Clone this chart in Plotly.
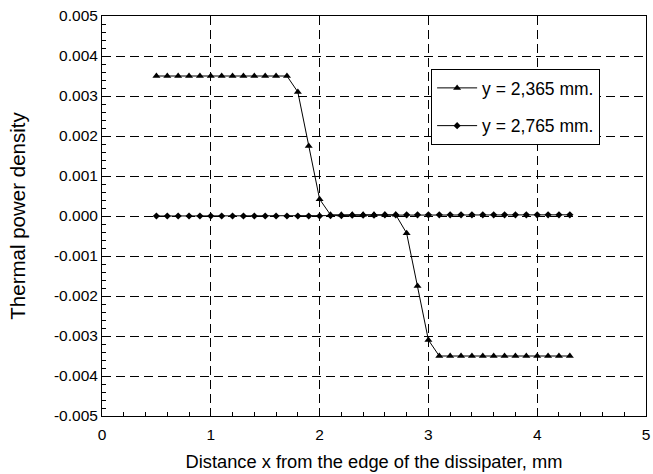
import plotly.graph_objects as go

# Data
x_a = [0.5, 0.6, 0.7, 0.8, 0.9, 1.0, 1.1, 1.2, 1.3, 1.4, 1.5, 1.6, 1.7,
       1.8, 1.9, 2.0, 2.1, 2.2, 2.3, 2.4, 2.5, 2.6, 2.7, 2.8, 2.9, 3.0,
       3.1, 3.2, 3.3, 3.4, 3.5, 3.6, 3.7, 3.8, 3.9, 4.0, 4.1, 4.2, 4.3]
y_a = [0.0035, 0.0035, 0.0035, 0.0035, 0.0035, 0.0035, 0.0035, 0.0035, 0.0035, 0.0035, 0.0035, 0.0035, 0.0035,
       0.00310, 0.00175, 0.00042, 0.00003, 0.00003, 0.00003, 0.00003, 0.00003, 0.00003, 0.00003,
       -0.00043, -0.00175, -0.00310,
       -0.0035, -0.0035, -0.0035, -0.0035, -0.0035, -0.0035, -0.0035, -0.0035, -0.0035, -0.0035, -0.0035, -0.0035, -0.0035]

x_b = [0.5, 0.6, 0.7, 0.8, 0.9, 1.0, 1.1, 1.2, 1.3, 1.4, 1.5, 1.6, 1.7,
       1.8, 1.9, 2.0, 2.1, 2.2, 2.3, 2.4, 2.5, 2.6, 2.7, 2.8, 2.9, 3.0,
       3.1, 3.2, 3.3, 3.4, 3.5, 3.6, 3.7, 3.8, 3.9, 4.0, 4.1, 4.2, 4.3]
y_b = [0.0, 0.0, 0.0, 0.0, 0.0, 0.0, 0.0, 0.0, 0.0, 0.0, 0.0, 0.0, 0.0,
       0.0, 0.0, 0.0, 0.00001, 0.00001, 0.00002, 0.00002, 0.00002, 0.00003, 0.00003, 0.00003, 0.00003, 0.00003,
       0.00003, 0.00003, 0.00003, 0.00003, 0.00003, 0.00003, 0.00003, 0.00003, 0.00003, 0.00003, 0.00003, 0.00003, 0.00003]

name_a = "y = 2,365 mm."
name_b = "y = 2,765 mm."

x_tickvals = [0, 1, 2, 3, 4, 5]
x_ticktext = ["0", "1", "2", "3", "4", "5"]
y_tickvals = [0.005, 0.004, 0.003, 0.002, 0.001, 0.0, -0.001, -0.002, -0.003, -0.004, -0.005]
y_ticktext = ["0.005", "0.004", "0.003", "0.002", "0.001", "0.000",
              "-0.001", "-0.002", "-0.003", "-0.004", "-0.005"]

FONT = "Liberation Sans, Arial, sans-serif"

fig = go.Figure()
fig.add_trace(go.Scatter(x=x_a, y=y_a, name=name_a, mode="lines+markers",
                         line=dict(color="black", width=1),
                         marker=dict(symbol="triangle-up", size=7, color="black"),
                         legendgroup="a"))
fig.add_trace(go.Scatter(x=x_b, y=y_b, name=name_b, mode="lines+markers",
                         line=dict(color="black", width=1),
                         marker=dict(symbol="diamond", size=5.5, color="black"),
                         legendgroup="b"))

fig.update_layout(
    width=653, height=474,
    margin=dict(l=102, r=3, t=16, b=58),
    paper_bgcolor="white", plot_bgcolor="white",
    font=dict(family=FONT, size=15.5, color="black"),
    showlegend=True,
    legend=dict(x=0.605, y=0.8675, xanchor="left", yanchor="top",
                bgcolor="white", bordercolor="black", borderwidth=1,
                font=dict(family=FONT, size=17.5, color="black"),
                tracegroupgap=12, itemwidth=40),
    xaxis=dict(
        range=[0, 5], tickmode="array", tickvals=x_tickvals, ticktext=x_ticktext,
        tickfont=dict(family=FONT, size=15.5, color="black"),
        showline=True, linecolor="black", linewidth=1, mirror=True,
        showgrid=True, gridcolor="black", gridwidth=1, griddash="9px,5px",
        zeroline=False, ticks="inside", ticklen=5, tickcolor="black",
        ticklabeloverflow="allow", ticklabelstandoff=4,
        minor=dict(dtick=0.2, ticks="inside", ticklen=4, tickcolor="black", showgrid=False),
        title=dict(text="Distance x from the edge of the dissipater, mm",
                   font=dict(family=FONT, size=18.3, color="black"), standoff=13),
    ),
    yaxis=dict(
        range=[-0.005, 0.005], tickmode="array", tickvals=y_tickvals, ticktext=y_ticktext,
        tickfont=dict(family=FONT, size=15.5, color="black"),
        showline=True, linecolor="black", linewidth=1, mirror=True,
        showgrid=True, gridcolor="black", gridwidth=1, griddash="9px,5px",
        zeroline=False, ticks="inside", ticklen=5, tickcolor="black",
        minor=dict(dtick=0.0002, tick0=0, ticks="inside", ticklen=4, tickcolor="black", showgrid=False),
        title=dict(text="Thermal power density",
                   font=dict(family=FONT, size=20.5, color="black"), standoff=22),
    ),
)

fig.write_html("out.html")
